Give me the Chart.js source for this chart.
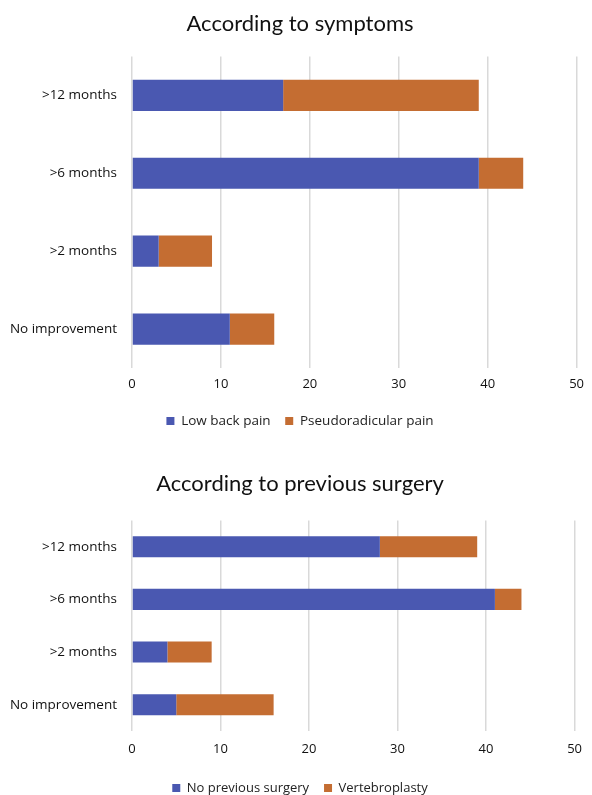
<!DOCTYPE html>
<html>
<head>
<meta charset="utf-8">
<script src="https://cdn.jsdelivr.net/npm/chart.js@4/dist/chart.umd.min.js"></script>
<style>
  body { margin: 0; background: #fff; width: 592px; height: 795px; overflow: hidden; position: relative; }
  .box { position: absolute; left: 0; width: 592px; }
</style>
</head>
<body>
<div class="box" style="top:0;height:452px"><canvas id="chart-sintomas"></canvas></div>
<div class="box" style="top:458px;height:362px"><canvas id="chart-cirugia"></canvas></div>
<script>
// Datos
const categorias = ['>12 months', '>6 months', '>2 months', 'No improvement'];

const lowBackPain        = [17, 39, 3, 11];
const pseudoradicular    = [22, 5, 6, 5];

const noPreviousSurgery  = [28, 41, 4, 5];
const vertebroplasty     = [11, 3, 5, 11];

const AZUL    = '#4a58b1';
const NARANJA = '#c46d32';

// cfg: medidas de cada panel
function opciones(titulo, cfg) {
  return {
    indexAxis: 'y',
    responsive: true,
    maintainAspectRatio: false,
    animation: false,
    layout: { padding: { left: 8, right: 0, top: cfg.top, bottom: cfg.bottom } },
    plugins: {
      title: {
        display: true, text: titulo, color: '#111',
        font: { family: 'Lato', size: 22, weight: 'normal' },
        padding: { top: 0, bottom: cfg.padTitulo }
      },
      legend: {
        position: 'bottom',
        labels: {
          color: '#222', boxWidth: 8, boxHeight: 8, padding: cfg.padLeyenda,
          font: { family: 'Open Sans', size: cfg.fuenteLeyenda }
        }
      },
      tooltip: { enabled: false }
    },
    scales: {
      x: {
        stacked: true, min: 0, max: 50,
        ticks: { stepSize: 10, color: '#111', padding: cfg.padTicks, font: { family: 'Open Sans', size: 13 } },
        grid: { color: '#d9d9d9', lineWidth: 1.5, drawTicks: false },
        border: { display: false }
      },
      y: {
        stacked: true,
        afterFit: s => { s.width = 124; },   // eje 0 en x = 132
        ticks: { color: '#111', padding: 15, font: { family: 'Open Sans', size: 13.5 } },
        grid: { display: false, drawTicks: false },
        border: { display: false }
      }
    }
  };
}

new Chart(document.getElementById('chart-sintomas').getContext('2d'), {
  type: 'bar',
  data: {
    labels: categorias,
    datasets: [
      { label: 'Low back pain', data: lowBackPain, backgroundColor: AZUL, categoryPercentage: 0.4, barPercentage: 1 },
      { label: 'Pseudoradicular pain', data: pseudoradicular, backgroundColor: NARANJA, categoryPercentage: 0.4, barPercentage: 1 },
    ]
  },
  options: opciones('According to symptoms', { top: 11, bottom: 14.25, padTitulo: 19, padLeyenda: 14.65, fuenteLeyenda: 13.5, padTicks: 8 })
});

new Chart(document.getElementById('chart-cirugia').getContext('2d'), {
  type: 'bar',
  data: {
    labels: categorias,
    datasets: [
      { label: 'No previous surgery', data: noPreviousSurgery, backgroundColor: AZUL, categoryPercentage: 0.4, barPercentage: 1 },
      { label: 'Vertebroplasty', data: vertebroplasty, backgroundColor: NARANJA, categoryPercentage: 0.4, barPercentage: 1 },
    ]
  },
  options: opciones('According to previous surgery', { top: 13, bottom: 15.5, padTitulo: 23, padLeyenda: 14.9, fuenteLeyenda: 13, padTicks: 10 })
});
</script>
</body>
</html>
